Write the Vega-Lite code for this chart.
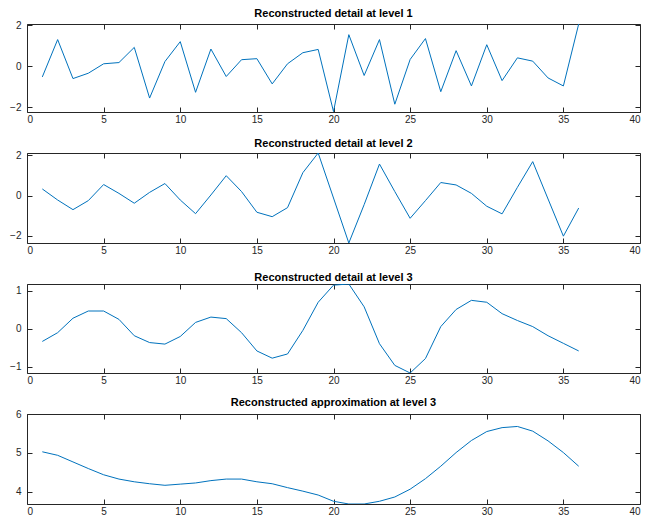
{
  "$schema": "https://vega.github.io/schema/vega-lite/v6.json",
  "padding": {"left": 9, "top": 8, "right": 5, "bottom": 0},
  "background": "white",
  "datasets": {
    "d1": [
      {"x":1,"v":-0.51},{"x":2,"v":1.31},{"x":3,"v":-0.59},{"x":4,"v":-0.33},{"x":5,"v":0.13},{"x":6,"v":0.19},
      {"x":7,"v":0.93},{"x":8,"v":-1.54},{"x":9,"v":0.24},{"x":10,"v":1.21},{"x":11,"v":-1.26},{"x":12,"v":0.85},
      {"x":13,"v":-0.49},{"x":14,"v":0.33},{"x":15,"v":0.38},{"x":16,"v":-0.85},{"x":17,"v":0.13},{"x":18,"v":0.67},
      {"x":19,"v":0.83},{"x":20,"v":-2.2},{"x":21,"v":1.55},{"x":22,"v":-0.44},{"x":23,"v":1.31},{"x":24,"v":-1.84},
      {"x":25,"v":0.34},{"x":26,"v":1.36},{"x":27,"v":-1.23},{"x":28,"v":0.77},{"x":29,"v":-0.95},{"x":30,"v":1.06},
      {"x":31,"v":-0.69},{"x":32,"v":0.42},{"x":33,"v":0.26},{"x":34,"v":-0.56},{"x":35,"v":-0.95},{"x":36,"v":2.07}
    ],
    "d2": [
      {"x":1,"v":0.33},{"x":2,"v":-0.22},{"x":3,"v":-0.7},{"x":4,"v":-0.25},{"x":5,"v":0.55},{"x":6,"v":0.11},
      {"x":7,"v":-0.38},{"x":8,"v":0.16},{"x":9,"v":0.6},{"x":10,"v":-0.22},{"x":11,"v":-0.9},{"x":12,"v":0.03},
      {"x":13,"v":0.99},{"x":14,"v":0.2},{"x":15,"v":-0.83},{"x":16,"v":-1.05},{"x":17,"v":-0.6},{"x":18,"v":1.14},
      {"x":19,"v":2.12},{"x":20,"v":-0.12},{"x":21,"v":-2.36},{"x":22,"v":-0.45},{"x":23,"v":1.57},{"x":24,"v":0.2},
      {"x":25,"v":-1.13},{"x":26,"v":-0.25},{"x":27,"v":0.65},{"x":28,"v":0.53},{"x":29,"v":0.11},{"x":30,"v":-0.53},
      {"x":31,"v":-0.91},{"x":32,"v":0.41},{"x":33,"v":1.69},{"x":34,"v":-0.17},{"x":35,"v":-2.02},{"x":36,"v":-0.62}
    ],
    "d3": [
      {"x":1,"v":-0.33},{"x":2,"v":-0.1},{"x":3,"v":0.28},{"x":4,"v":0.47},{"x":5,"v":0.47},{"x":6,"v":0.25},
      {"x":7,"v":-0.18},{"x":8,"v":-0.36},{"x":9,"v":-0.4},{"x":10,"v":-0.2},{"x":11,"v":0.17},{"x":12,"v":0.31},
      {"x":13,"v":0.27},{"x":14,"v":-0.1},{"x":15,"v":-0.58},{"x":16,"v":-0.77},{"x":17,"v":-0.66},{"x":18,"v":-0.04},
      {"x":19,"v":0.7},{"x":20,"v":1.15},{"x":21,"v":1.18},{"x":22,"v":0.58},{"x":23,"v":-0.39},{"x":24,"v":-0.96},
      {"x":25,"v":-1.16},{"x":26,"v":-0.78},{"x":27,"v":0.06},{"x":28,"v":0.51},{"x":29,"v":0.75},{"x":30,"v":0.7},
      {"x":31,"v":0.4},{"x":32,"v":0.22},{"x":33,"v":0.06},{"x":34,"v":-0.18},{"x":35,"v":-0.38},{"x":36,"v":-0.58}
    ],
    "a3": [
      {"x":1,"v":5.03},{"x":2,"v":4.94},{"x":3,"v":4.77},{"x":4,"v":4.6},{"x":5,"v":4.44},{"x":6,"v":4.33},
      {"x":7,"v":4.26},{"x":8,"v":4.21},{"x":9,"v":4.17},{"x":10,"v":4.2},{"x":11,"v":4.23},{"x":12,"v":4.29},
      {"x":13,"v":4.33},{"x":14,"v":4.33},{"x":15,"v":4.26},{"x":16,"v":4.21},{"x":17,"v":4.11},{"x":18,"v":4.02},
      {"x":19,"v":3.92},{"x":20,"v":3.76},{"x":21,"v":3.69},{"x":22,"v":3.69},{"x":23,"v":3.76},{"x":24,"v":3.87},
      {"x":25,"v":4.07},{"x":26,"v":4.34},{"x":27,"v":4.66},{"x":28,"v":5.01},{"x":29,"v":5.32},{"x":30,"v":5.55},
      {"x":31,"v":5.65},{"x":32,"v":5.68},{"x":33,"v":5.56},{"x":34,"v":5.31},{"x":35,"v":5.01},{"x":36,"v":4.66}
    ]
  },
  "config": {
    "view": {"stroke": null},
    "font": "Liberation Sans",
    "title": {"font": "Liberation Sans", "fontSize": 11, "fontWeight": "bold", "color": "#000000", "offset": 1},
    "axis": {
      "grid": false, "title": null,
      "domainColor": "#262626", "tickColor": "#262626", "labelColor": "#262626",
      "labelFont": "Liberation Sans", "labelFontSize": 10,
      "tickSize": -5, "labelPadding": 10, "domainWidth": 1, "tickWidth": 1
    },
    "axisX": {"labelPadding": 7},
    "axisY": {"labelPadding": 11}
  },
  "vconcat": [
    {
      "title": "Reconstructed detail at level 1",
      "width": 613, "height": 88,
      "data": {"name": "d1"},
      "layer": [
        {"mark": {"type": "line", "color": "#0072BD", "strokeWidth": 1, "clip": true},
         "encoding": {
           "x": {"field": "x", "type": "quantitative", "scale": {"domain": [0, 40], "nice": false}, "axis": {"values": [0,5,10,15,20,25,30,35,40]}},
           "y": {"field": "v", "type": "quantitative", "scale": {"domain": [-2.22, 2.07], "nice": false, "zero": false}, "axis": {"values": [-2,0,2]}}}},
        {"mark": {"type": "line", "strokeOpacity": 0},
         "encoding": {
           "x": {"field": "x", "type": "quantitative", "axis": {"orient": "top", "labels": false, "values": [0,5,10,15,20,25,30,35,40]}},
           "y": {"field": "v", "type": "quantitative", "axis": {"orient": "right", "labels": false, "values": [-2,0,2]}}}}
      ],
      "resolve": {"axis": {"x": "independent", "y": "independent"}}
    },
    {
      "title": "Reconstructed detail at level 2",
      "width": 613, "height": 90,
      "data": {"name": "d2"},
      "layer": [
        {"mark": {"type": "line", "color": "#0072BD", "strokeWidth": 1, "clip": true},
         "encoding": {
           "x": {"field": "x", "type": "quantitative", "scale": {"domain": [0, 40], "nice": false}, "axis": {"values": [0,5,10,15,20,25,30,35,40]}},
           "y": {"field": "v", "type": "quantitative", "scale": {"domain": [-2.36, 2.12], "nice": false, "zero": false}, "axis": {"values": [-2,0,2]}}}},
        {"mark": {"type": "line", "strokeOpacity": 0},
         "encoding": {
           "x": {"field": "x", "type": "quantitative", "axis": {"orient": "top", "labels": false, "values": [0,5,10,15,20,25,30,35,40]}},
           "y": {"field": "v", "type": "quantitative", "axis": {"orient": "right", "labels": false, "values": [-2,0,2]}}}}
      ],
      "resolve": {"axis": {"x": "independent", "y": "independent"}}
    },
    {
      "title": "Reconstructed detail at level 3",
      "width": 613, "height": 89,
      "data": {"name": "d3"},
      "layer": [
        {"mark": {"type": "line", "color": "#0072BD", "strokeWidth": 1, "clip": true},
         "encoding": {
           "x": {"field": "x", "type": "quantitative", "scale": {"domain": [0, 40], "nice": false}, "axis": {"values": [0,5,10,15,20,25,30,35,40]}},
           "y": {"field": "v", "type": "quantitative", "scale": {"domain": [-1.16, 1.18], "nice": false, "zero": false}, "axis": {"values": [-1,0,1]}}}},
        {"mark": {"type": "line", "strokeOpacity": 0},
         "encoding": {
           "x": {"field": "x", "type": "quantitative", "axis": {"orient": "top", "labels": false, "values": [0,5,10,15,20,25,30,35,40]}},
           "y": {"field": "v", "type": "quantitative", "axis": {"orient": "right", "labels": false, "values": [-1,0,1]}}}}
      ],
      "resolve": {"axis": {"x": "independent", "y": "independent"}}
    },
    {
      "title": "Reconstructed approximation at level 3",
      "width": 613, "height": 90,
      "data": {"name": "a3"},
      "layer": [
        {"mark": {"type": "line", "color": "#0072BD", "strokeWidth": 1, "clip": true},
         "encoding": {
           "x": {"field": "x", "type": "quantitative", "scale": {"domain": [0, 40], "nice": false}, "axis": {"values": [0,5,10,15,20,25,30,35,40]}},
           "y": {"field": "v", "type": "quantitative", "scale": {"domain": [3.69, 6], "nice": false, "zero": false}, "axis": {"values": [4,5,6]}}}},
        {"mark": {"type": "line", "strokeOpacity": 0},
         "encoding": {
           "x": {"field": "x", "type": "quantitative", "axis": {"orient": "top", "labels": false, "values": [0,5,10,15,20,25,30,35,40]}},
           "y": {"field": "v", "type": "quantitative", "axis": {"orient": "right", "labels": false, "values": [4,5,6]}}}}
      ],
      "resolve": {"axis": {"x": "independent", "y": "independent"}}
    }
  ],
  "spacing": 41,
  "bounds": "flush"
}
